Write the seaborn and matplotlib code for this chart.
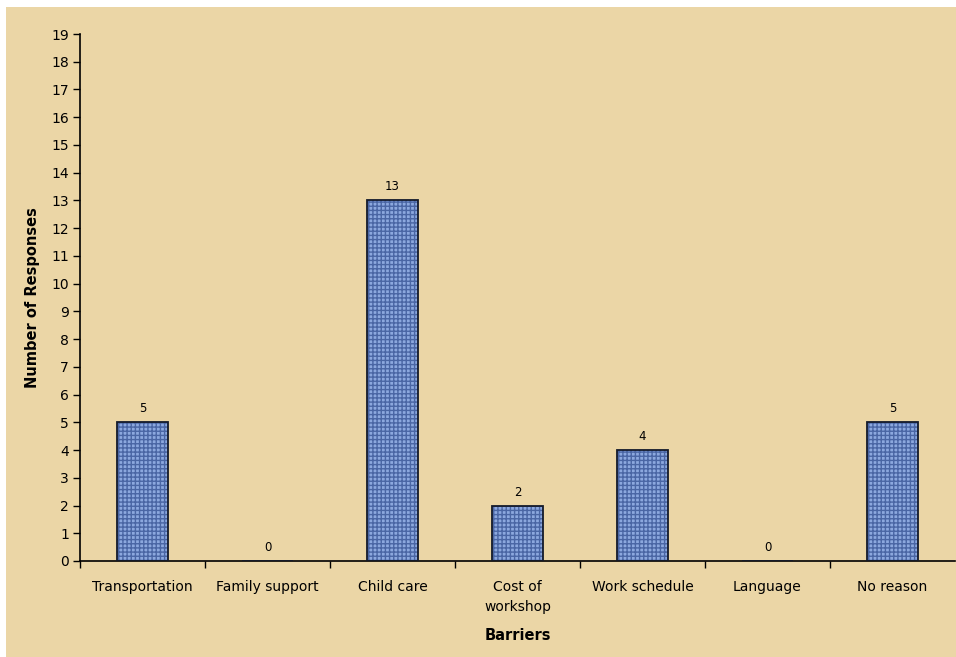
import matplotlib
matplotlib.use("Agg")
import matplotlib.pyplot as plt
import seaborn as sns
import pandas as pd
from matplotlib.patches import Rectangle

# data
barriers = ["Transportation", "Family support", "Child care", "Cost of\nworkshop",
            "Work schedule", "Language", "No reason"]
responses = [5, 0, 13, 2, 4, 0, 5]

df = pd.DataFrame({"Barriers": barriers, "Responses": responses})

sns.set_style("white")
plt.rcParams['font.family'] = ['DejaVu Sans']
plt.rcParams['text.color'] = 'black'
plt.rcParams['axes.labelcolor'] = 'black'
plt.rcParams['xtick.color'] = 'black'
plt.rcParams['ytick.color'] = 'black'
plt.rcParams['hatch.linewidth'] = 1.0

fig = plt.figure(figsize=(9.56, 6.57), dpi=100, facecolor="white")

# papyrus-like background panel
fig.patches.append(Rectangle((6 / 956, 0), 1, 1 - 7 / 657, transform=fig.transFigure,
                             facecolor="#ebd6a6", edgecolor="none", zorder=-10))

ax = fig.add_axes([80 / 956, 1 - 561 / 657, 875 / 956, 527 / 657])
ax.set_facecolor("none")
ax.set_zorder(5)

# textured blue bars
sns.barplot(data=df, x="Barriers", y="Responses", ax=ax, width=0.41,
            color="#8ca8de", saturation=1, edgecolor="#4a66a4", linewidth=0,
            hatch="++++", zorder=2)
# outline on top
sns.barplot(data=df, x="Barriers", y="Responses", ax=ax, width=0.41,
            fill=False, edgecolor="#141a2a", linewidth=1.3, zorder=3)

ax.bar_label(ax.containers[0], labels=[str(v) for v in responses],
             padding=5, fontsize=8.5, color="black")

ax.set_ylim(0, 19)
ax.set_xlim(-0.5, 6.5)
ax.set_yticks(range(0, 20))
ax.tick_params(axis="y", length=5, width=1, labelsize=10, pad=3, left=True)
ax.tick_params(axis="x", which="major", length=0, labelsize=10, pad=14)
for lbl in ax.get_xticklabels():
    lbl.set_linespacing(1.5)
ax.set_xticks([i + 0.5 for i in range(-1, 6)], minor=True)
ax.tick_params(axis="x", which="minor", length=5, width=1, bottom=True)

for s in ["top", "right"]:
    ax.spines[s].set_visible(False)
for s in ["left", "bottom"]:
    ax.spines[s].set_color("black")
    ax.spines[s].set_linewidth(1.2)

ax.set_xlabel("Barriers", fontsize=10.5, fontweight="bold", labelpad=10)
ax.set_ylabel("Number of Responses", fontsize=10.5, fontweight="bold", labelpad=8)

fig.savefig("out.png", dpi=100, facecolor="white")
